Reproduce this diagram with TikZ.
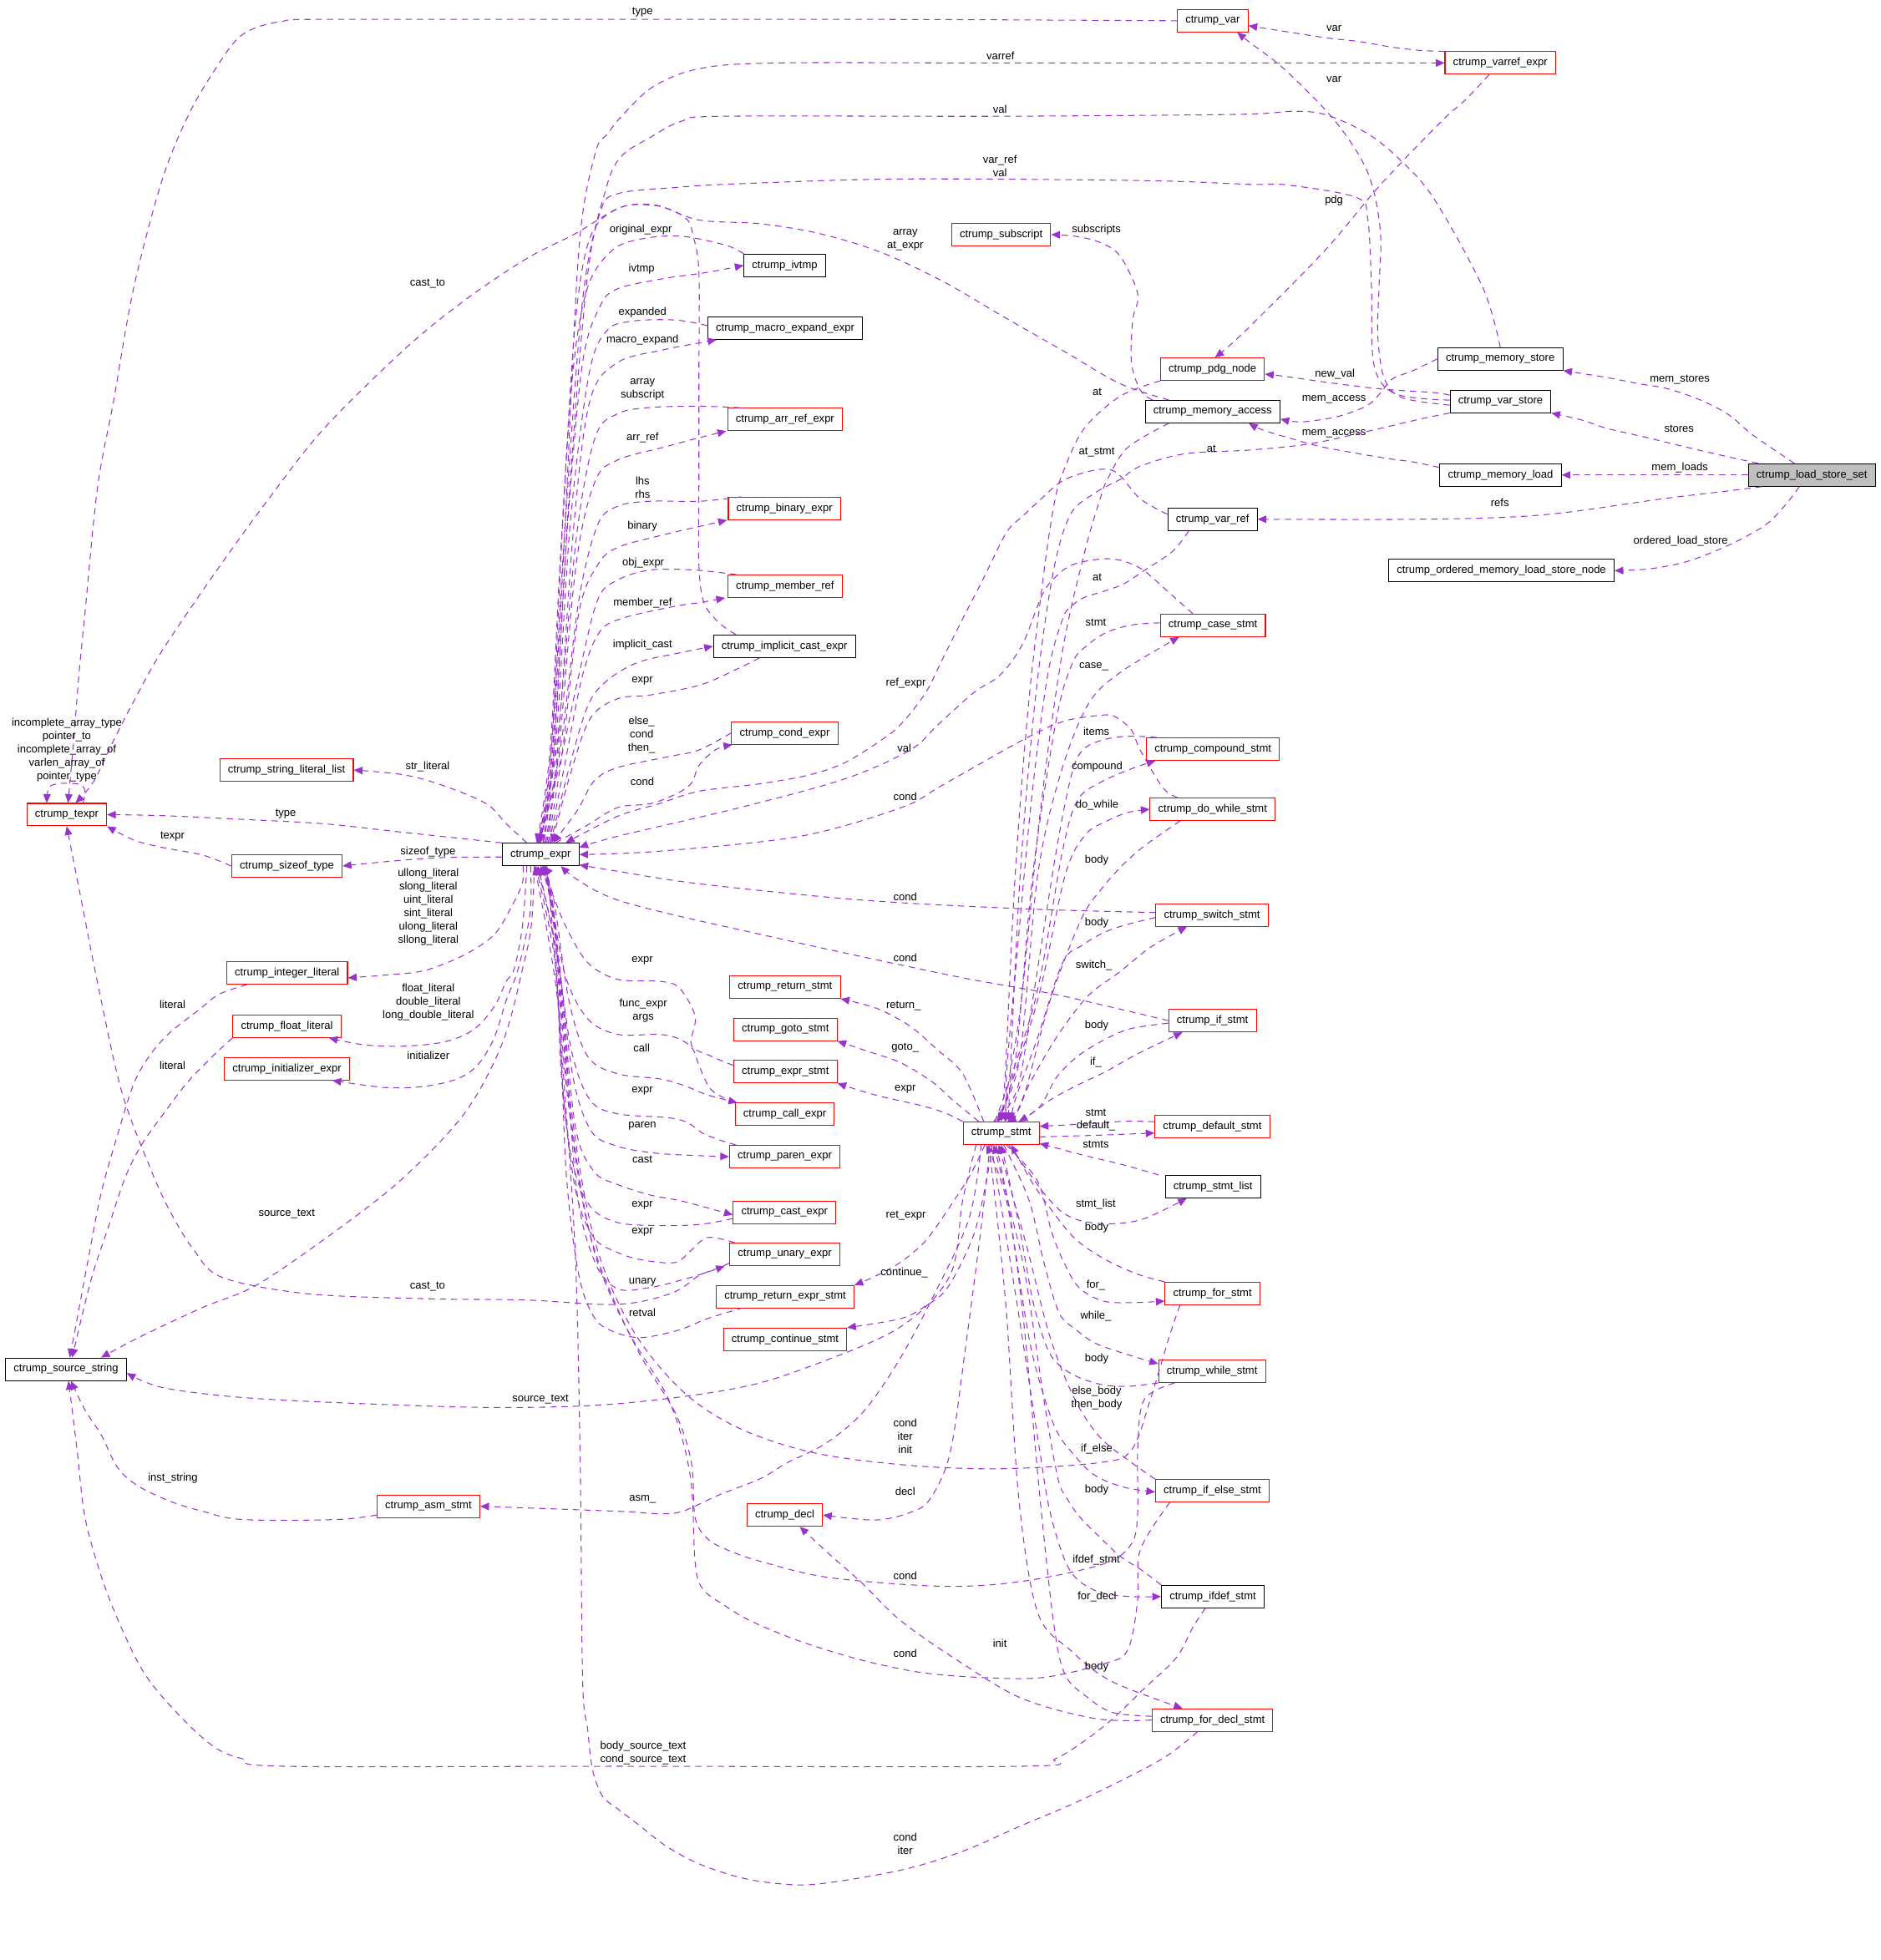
\documentclass[tikz,border=0pt]{standalone}
\usepackage{fontspec}
\setmainfont{Liberation Sans}
\usetikzlibrary{arrows.meta}
\definecolor{edgec}{HTML}{9A32CD}
\definecolor{boxred}{HTML}{FF0000}
\tikzset{
  cls/.style={draw=black, fill=white, line width=0.7pt, minimum height=18pt,
    inner xsep=6.5pt, inner ysep=0pt},
  rcls/.style={cls, draw=boxred},
  focus/.style={cls, fill=black!25},
  mem/.style={draw=edgec, line width=0.7pt, dash pattern=on 5pt off 4pt,
    -{Triangle[length=7pt,width=6pt]}},
  lbl/.style={inner sep=0pt, align=center},
  every plot/.style={smooth, tension=0.55}
}
\begin{document}
\begin{tikzpicture}[x=1pt, y=-1pt, font=\fontsize{8.7}{10.7}\selectfont]
\useasboundingbox (0,0) rectangle (1504,1568);
% classes
\node[focus] (lss) at (1449.2,380) {ctrump\_load\_store\_set};
\node[cls] (mstore) at (1200,287.1) {ctrump\_memory\_store};
\node[cls] (vstore) at (1200.2,321.1) {ctrump\_var\_store};
\node[cls] (mload) at (1200.2,380) {ctrump\_memory\_load};
\node[cls] (ordered) at (1200.9,456.5) {ctrump\_ordered\_memory\_load\_store\_node};
\node[cls] (macc) at (969.9,329.3) {ctrump\_memory\_access};
\node[cls] (varr) at (969.8,415.4) {ctrump\_var\_ref};
\node[rcls] (var) at (970,16.6) {ctrump\_var};
\node[rcls] (varref) at (1200,50.4) {ctrump\_varref\_expr};
\node[rcls] (subscr) at (800.8,187.7) {ctrump\_subscript};
\node[rcls] (pdg) at (969.8,295.3) {ctrump\_pdg\_node};
\node[cls] (ivtmp) at (627.7,212.3) {ctrump\_ivtmp};
\node[cls] (macro) at (628,262.5) {ctrump\_macro\_expand\_expr};
\node[rcls] (arrref) at (627.9,335.5) {ctrump\_arr\_ref\_expr};
\node[rcls] (binary) at (627.5,406.8) {ctrump\_binary\_expr};
\node[rcls] (member) at (627.9,469) {ctrump\_member\_ref};
\node[cls] (icast) at (627.4,517) {ctrump\_implicit\_cast\_expr};
\node[rcls] (condx) at (627.7,586.4) {ctrump\_cond\_expr};
\node[rcls] (strlit) at (229.2,616) {ctrump\_string\_literal\_list};
\node[rcls] (texpr) at (53.4,651.7) {ctrump\_texpr};
\node[cls] (expr) at (432.4,683.6) {ctrump\_expr};
\node[rcls] (sizeof) at (229.5,692.8) {ctrump\_sizeof\_type};
\node[rcls] (intlit) at (229.6,778.3) {ctrump\_integer\_literal};
\node[rcls] (fltlit) at (229.5,821) {ctrump\_float\_literal};
\node[rcls] (init) at (229.5,855) {ctrump\_initializer\_expr};
\node[cls] (srcstr) at (52.8,1095.4) {ctrump\_source\_string};
\node[rcls] (asm) at (342.7,1205) {ctrump\_asm\_stmt};
\node[rcls] (retst) at (627.9,789.7) {ctrump\_return\_stmt};
\node[rcls] (gotost) at (628.2,823.6) {ctrump\_goto\_stmt};
\node[rcls] (exprst) at (628.2,857.3) {ctrump\_expr\_stmt};
\node[rcls] (call) at (627.7,891.4) {ctrump\_call\_expr};
\node[rcls] (paren) at (627.7,925.3) {ctrump\_paren\_expr};
\node[rcls] (cast) at (627.5,969.9) {ctrump\_cast\_expr};
\node[rcls] (unary) at (627.7,1003.5) {ctrump\_unary\_expr};
\node[rcls] (retexpr) at (628,1037.5) {ctrump\_return\_expr\_stmt};
\node[rcls] (contst) at (628,1071.4) {ctrump\_continue\_stmt};
\node[rcls] (decl) at (627.7,1212) {ctrump\_decl};
\node[rcls] (stmt) at (800.8,906.5) {ctrump\_stmt};
\node[rcls] (casest) at (970.1,500.3) {ctrump\_case\_stmt};
\node[rcls] (compst) at (970.2,599.3) {ctrump\_compound\_stmt};
\node[rcls] (dowhile) at (969.9,647.4) {ctrump\_do\_while\_stmt};
\node[rcls] (switchst) at (969.4,732) {ctrump\_switch\_stmt};
\node[rcls] (ifst) at (969.8,816.5) {ctrump\_if\_stmt};
\node[rcls] (defst) at (969.7,901.4) {ctrump\_default\_stmt};
\node[cls] (stlist) at (970.2,949.3) {ctrump\_stmt\_list};
\node[rcls] (forst) at (969.8,1034.8) {ctrump\_for\_stmt};
\node[rcls] (whilest) at (969.5,1097) {ctrump\_while\_stmt};
\node[rcls] (ifelse) at (969.7,1192.6) {ctrump\_if\_else\_stmt};
\node[cls] (ifdef) at (970.1,1277.2) {ctrump\_ifdef\_stmt};
\node[rcls] (fordecl) at (969.8,1376) {ctrump\_for\_decl\_stmt};

% load/store set
\draw[mem] plot coordinates {([xshift=-14pt]lss.north) (1402,348) (1383,332) (1360,320) (1334,311) (1311,307) (1285,302) (mstore.south east)};
\draw[mem] plot coordinates {([xshift=-43pt]lss.north) (1383,365.6) (1350,358) (1317,350) (1285,342.6) (1265,336) (vstore.south east)};
\draw[mem] (lss) -- (mload);
\draw[mem] plot coordinates {([xshift=-40pt]lss.south) (1380,393) (1330,399) (1252,410) (1200,414) (1120,415.5) (varr.east)};
\draw[mem] plot coordinates {([xshift=-10pt]lss.south) (1428,404) (1412,420) (1383,436) (1350,449) (1320,455) (ordered.east)};
\node[lbl] (lmst) at (1343.6,303.8) {mem\_stores};
\node[lbl] (lst) at (1343,343.1) {stores};
\node[lbl] (lmld) at (1343.6,374.1) {mem\_loads};
\node[lbl] (lrefs) at (1199.7,402.1) {refs};
\node[lbl] (lols) at (1344.3,433.1) {ordered\_load\_store};

% var, varref, stores, memory access
\draw[mem] plot coordinates {(varref.north west) (1137,40.4) (1114,37.8) (1087,33.2) (1064,30.7) (1038,26.8) ([yshift=-4pt]var.east)};
\draw[mem] plot coordinates {([yshift=-3pt]vstore.west) (1121,318) (1107,302) (1102,268) (1103,230) (1104,184) (1094,138) (1068,97) (1028,56) (1001,35) ([xshift=-9pt]var.south east)};
\draw[mem] plot coordinates {([xshift=-9pt]varref.south) (1172,80) (1153,97) (1104,148) (1061,199) (1008,253) (984,276) ([xshift=2pt]pdg.north)};
\draw[mem] plot coordinates {(mstore.west) (1130,296.6) (1114,303) (1104,314.5) (1097,322) (1087,327.5) (1068,333.7) (1041,337.5) ([yshift=-6pt]macc.east)};
\draw[mem] plot coordinates {([yshift=6pt]mload.west) (1130,369.5) (1114,367.4) (1087,363) (1055,357) (1031,350.3) (1010,344) ([xshift=29pt]macc.south)};
\draw[mem] plot coordinates {([yshift=5pt]vstore.west) (1146,314) (1107,311.4) (1068,306.8) (1041,303) (1022,300.4) ([yshift=-4pt]pdg.east)};
\node[lbl] (lvar1) at (1067,22.5) {var};
\node[lbl] (lvar2) at (1067,63.4) {var};
\node[lbl] (lpdg) at (1067,160.6) {pdg};
\node[lbl] (lnew) at (1067.7,299.2) {new\_val};
\node[lbl] (lmacc1) at (1067,319.6) {mem\_access};
\node[lbl] (lmacc2) at (1067,347) {mem\_access};

% long edges into the top of ctrump_expr
\draw[mem] plot coordinates {([xshift=2pt]expr.north) (442,600) (452,420) (463,200) (476,123) (486,107) (499,91) (523,69) (559,55) (620,50.4) (800,50.4) (1000,50.4) (varref.west)};
\draw[mem] plot coordinates {(mstore.north) (1186,230) (1147,159) (1120,128) (1094,107) (1061,92) (1035,89) (989,91.5) (800,93) (579,93) (545,97) (520,110) (497,125) (485,150) (470,220) (455,400) (443,600) ([xshift=-1pt]expr.north)};
\draw[mem] plot coordinates {([yshift=1pt]vstore.west) (1116,315) (1099,292) (1097,230) (1094,175) (1085,158) (1030,148) (1000,147.5) (915,144.5) (721,143.2) (591,147) (540,150) (494,155) (480,170) (466,240) (452,420) (441,600) ([xshift=-2pt]expr.north)};
\draw[mem] plot coordinates {([xshift=-35pt]macc.north) (896,307) (851,281) (802,253) (754,225) (705,202) (656,187) (608,179) (559,176) (524,164) (494,167) (472,190) (460,260) (450,420) (441,600) (expr.north)};
\node[lbl] (lvarref) at (800.2,44.7) {varref};
\node[lbl] (lval1) at (799.8,87.4) {val};
\node[lbl] (lvrv) at (799.8,132.7) {var\_ref\\val};
\node[lbl] (larr) at (724.1,191.7) {array\\at\_expr};

% memory access, pdg, stores and var_ref into ctrump_stmt
\draw[mem] plot coordinates {(macc.169) (912,312) (905,290) (906,256) (910,235) (896,205) (880,194) (860,189) (subscr.east)};
\draw[mem] plot coordinates {([xshift=-35pt]macc.south) (902,358) (886,383) (880,399) (868,440) (850,520) (832,650) (817,800) (806,870) ([xshift=3pt]stmt.north)};
\draw[mem] plot coordinates {(pdg.south west) (896,317) (867,343) (851,376) (844,399) (836,450) (823,560) (812,700) (804,860) (stmt.north)};
\draw[mem] plot coordinates {(vstore.south west) (1137,335) (1094,345) (1048,355) (1000,360) (948,363) (912,373) (896,383.5) (876.5,394) (856,412) (842,460) (828,560) (816,700) (808,860) ([xshift=6pt]stmt.north)};
\draw[mem] plot coordinates {([xshift=-19pt]varr.south) (938,441) (915,456.5) (899,467) (883,473) (867,478) (857,485) (850,495) (838,540) (825,640) (812,780) (805,860) ([xshift=4pt]stmt.north)};
\node[lbl] (lsubs) at (876.9,184.1) {subscripts};
\node[lbl] (lat1) at (877.6,313.7) {at};
\node[lbl] (latst) at (877.2,361.8) {at\_stmt};
\node[lbl] (lat2) at (968.9,359.2) {at};
\node[lbl] (lat3) at (877.5,462.2) {at};

% var_ref, case
\draw[mem] plot coordinates {([yshift=4pt]varr.west) (912,399) (893,378) (876.5,376) (851,384) (834,398) (818,413) (805,426) (786,464) (770,495) (753.5,528) (740.5,554) (721,579) (705,592) (676,610) (647,620) (608,627) (559,633) (527,643) (494,653) (expr.25)};
\draw[mem] plot coordinates {([xshift=-16pt]casest.north) (935,474) (915,456.5) (899,449) (883,447) (860,451) (847,459) (834,475) (818,515) (800,540) (779,554) (750,580) (728,600) (676,623) (592,646) (494,669) (expr.10)};
\draw[mem] plot coordinates {([yshift=2pt]casest.west) (905,500) (885,506) (870,516) (858,530) (845,575) (826,700) (812,850) ([xshift=-3pt]stmt.north)};
\draw[mem] plot coordinates {([xshift=-6pt]stmt.north) (815,850) (830,700) (848,620) (870,564) (896,538) ([xshift=-27pt]casest.south)};
\node[lbl] (lrefx) at (724.6,546.5) {ref\_expr};
\node[lbl] (lval2) at (723.3,598.7) {val};
\node[lbl] (lstmt1) at (876.5,498.2) {stmt};
\node[lbl] (lcase) at (874.9,533.2) {case\_};

% compound, do_while, switch, if
\draw[mem] plot coordinates {([xshift=-45pt]compst.north) (902,589) (882,592) (866,600) (857,620) (845,680) (826,800) (814,870) ([xshift=-4pt]stmt.north)};
\draw[mem] plot coordinates {([xshift=-5pt]stmt.north) (828,800) (850,680) (862,640) (880,626) (905,615) ([xshift=-46pt]compst.south)};
\draw[mem] plot coordinates {([xshift=-2pt]stmt.north) (830,800) (852,700) (868,668) (885,657) (902,650) (dowhile.west)};
\draw[mem] plot coordinates {([xshift=-26pt]dowhile.south) (915,677) (898,692) (882,710) (865,735) (840,800) (818,880) ([xshift=5pt]stmt.north)};
\draw[mem] plot coordinates {([xshift=-28pt]dowhile.north) (930,630) (912,600) (905,584) (893,574) (883,572) (851,577) (818,592) (754,628) (721,646) (640,669) (527,681) (expr.east)};
\draw[mem] plot coordinates {([yshift=2pt]switchst.west) (818,727) (689,720) (559,707) (494,697) (expr.-15)};
\draw[mem] plot coordinates {([yshift=-2pt]switchst.west) (900,740) (883,746) (866,756) (850,770) (830,830) (812,880) ([xshift=8pt]stmt.north)};
\draw[mem] plot coordinates {([xshift=10pt]stmt.north) (822,870) (845,830) (870,797) (895,778) (920,758) ([xshift=-20pt]switchst.south)};
\draw[mem] plot coordinates {(ifst.west) (851,797) (796,787) (754,779) (624,751) (494,720) (expr.-30)};
\draw[mem] plot coordinates {([yshift=-2pt]ifst.west) (904,823) (883,832) (862,845) (845,862) (832,885) ([xshift=14pt]stmt.north)};
\draw[mem] plot coordinates {([xshift=16pt]stmt.north) (840,880) (862,868) (885,857) (910,843) ([xshift=-24pt]ifst.south)};
\node[lbl] (litems) at (876.9,585.1) {items};
\node[lbl] (lcomp) at (877.5,613.3) {compound};
\node[lbl] (ldow) at (877.5,643.9) {do\_while};
\node[lbl] (lbody1) at (877.2,687.9) {body};
\node[lbl] (lbody2) at (877.2,738.6) {body};
\node[lbl] (lswitch) at (874.9,772.3) {switch\_};
\node[lbl] (lbody3) at (877.2,820.3) {body};
\node[lbl] (lif) at (876.5,849.7) {if\_};
\node[lbl] (lcond1) at (724,637.3) {cond};
\node[lbl] (lcond2) at (724,717.3) {cond};
\node[lbl] (lcond3) at (724,766.4) {cond};

% default, stmt_list, for, while
\draw[mem] plot coordinates {([yshift=4pt]defst.west) (900,897) (870,899) (stmt.10)};
\draw[mem] plot coordinates {([yshift=-3pt]stmt.east) (850,909) (883,908) ([yshift=-5pt]defst.west)};
\draw[mem] plot coordinates {([xshift=-5pt]stlist.north west) (899,932) (866,924) (stmt.-15)};
\draw[mem] plot coordinates {([xshift=6pt]stmt.south) (825,941) (837,957) (850,970) (866,977) (889,979) (915,975) ([xshift=-21pt]stlist.south)};
\draw[mem] plot coordinates {(forst.north west) (909,1019) (883,1007) (860,991) (841,968) (825,945) ([xshift=8pt]stmt.south)};
\draw[mem] plot coordinates {([xshift=4pt]stmt.south) (830,945) (841,985) (851,1010) (863,1030) (883,1041) (909,1042) ([yshift=-6pt]forst.west)};
\draw[mem] plot coordinates {([xshift=2pt]stmt.south) (823,960) (835,1010) (847,1050) (861,1064) (877,1075) (903,1084) ([yshift=6pt]whilest.west)};
\draw[mem] plot coordinates {(whilest.south west) (903,1109) (883,1108) (863,1102) (847,1092) (837,1077) (826,1040) (815,980) (stmt.south)};
\node[lbl] (lstmt2) at (876.5,889.9) {stmt};
\node[lbl] (ldef) at (876.5,900.6) {default\_};
\node[lbl] (lstmts) at (876.5,915.2) {stmts};
\node[lbl] (lstl) at (876.5,963.2) {stmt\_list};
\node[lbl] (lbody4) at (877.2,981.9) {body};
\node[lbl] (lfor) at (876.5,1028.2) {for\_};
\node[lbl] (lwhile) at (876.5,1052.7) {while\_};
\node[lbl] (lbody5) at (877.2,1087) {body};

% if_else, ifdef, for_decl
\draw[mem] plot coordinates {(ifelse.north west) (905,1170) (880,1150) (860,1120) (840,1070) (822,1000) (808,950) ([xshift=-2pt]stmt.south)};
\draw[mem] plot coordinates {([xshift=-4pt]stmt.south) (806,960) (812,1000) (825,1080) (843,1140) (860,1165) (877,1181) (900,1190) ([yshift=-1pt]ifelse.west)};
\draw[mem] plot coordinates {(ifdef.north west) (913,1256) (896,1245) (880,1230) (864,1214) (853,1198) (846,1182) (835,1120) (820,1020) (806,960) ([xshift=-6pt]stmt.south)};
\draw[mem] plot coordinates {([xshift=-8pt]stmt.south) (800,960) (813,1040) (830,1150) (840,1210) (855,1255) (875,1272) (900,1277) (ifdef.west)};
\draw[mem] plot coordinates {([xshift=-10pt]stmt.south) (796,960) (805,1050) (815,1200) (830,1290) (856,1320) (889,1345) ([xshift=-24pt]fordecl.north)};
\draw[mem] plot coordinates {([yshift=3pt]fordecl.west) (890,1370) (870,1358) (852,1340) (843,1300) (832,1200) (818,1050) (805,960) ([xshift=-12pt]stmt.south)};
\draw[mem] plot coordinates {(fordecl.west) (877,1375) (818,1359) (770,1331) (721,1297) (689,1266) (663,1243) ([xshift=12pt]decl.south)};
\node[lbl] (lebtb) at (877.2,1118.5) {else\_body\\then\_body};
\node[lbl] (lifelse) at (877.2,1159) {if\_else};
\node[lbl] (lbody6) at (877.2,1191.8) {body};
\node[lbl] (lifdef) at (876.9,1248) {ifdef\_stmt};
\node[lbl] (lfordecl) at (877.5,1277.2) {for\_decl};
\node[lbl] (linit) at (799.8,1314.7) {init};
\node[lbl] (lbody7) at (877.2,1333.6) {body};

% ctrump_stmt to the middle column
\draw[mem] plot coordinates {([xshift=-14pt]stmt.north) (770,859) (750,840) (728,821) (702,807) (retst.south east)};
\draw[mem] plot coordinates {([xshift=-18pt]stmt.north) (762,880) (745,865) (720,850) (694,841) (gotost.south east)};
\draw[mem] plot coordinates {(stmt.north west) (755,890) (735,884) (700,876) (exprst.south east)};
\draw[mem] plot coordinates {([xshift=-13pt]stmt.south) (776,940) (758,968) (740,993) (720,1010) (700,1021) (retexpr.north east)};
\draw[mem] plot coordinates {([xshift=-7pt]stmt.south) (788,950) (778,990) (758,1030) (740,1045) (720,1055) (contst.north east)};
\draw[mem] plot coordinates {([xshift=-16pt]stmt.south) (775,975) (745,1040) (718,1090) (690,1130) (660,1155) (630,1170) (608,1183) (575,1196) (546,1209) (527,1211) (494,1209) (asm.east)};
\draw[mem] plot coordinates {([xshift=-9pt]stmt.south) (785,980) (772,1080) (760,1162) (744,1199) (728,1210) (700,1216) (decl.east)};
\draw[mem] plot coordinates {([xshift=-20pt]stmt.south) (770,960) (760,1020) (721,1061) (656,1090) (592,1110) (494,1123) (400,1126) (292,1123) (194,1118) (130,1110) ([yshift=-3pt]srcstr.east)};
\node[lbl] (lret) at (722.7,804.5) {return\_};
\node[lbl] (lgoto) at (724,838.5) {goto\_};
\node[lbl] (lexpr1) at (724,871.4) {expr};
\node[lbl] (lretx) at (724.6,972.7) {ret\_expr};
\node[lbl] (lcont) at (723.3,1018.2) {continue\_};
\node[lbl] (lasm) at (513.9,1199.3) {asm\_};
\node[lbl] (ldecl) at (724,1193.1) {decl};
\node[lbl] (lsrc2) at (432.3,1119.2) {source\_text};

% loops back into the bottom of ctrump_expr
\draw[mem] plot coordinates {([xshift=-12pt]fordecl.south) (928,1408) (867,1439) (818,1460) (770,1481) (721,1496) (656,1507) (624,1507) (592,1502) (559,1491) (533,1477) (511,1460) (494,1447) (482,1437) (474,1416) (470,1383) (466,1344) (464,1163) (460,1000) (450,850) (440,720) ([xshift=3pt]expr.south)};
\draw[mem] plot coordinates {([xshift=-30pt]whilest.south) (915,1120) (910,1160) (910,1210) (905,1235) (883,1251) (818,1265) (754,1269) (663,1262) (608,1249) (582,1240) (566,1231) (556,1214) (553,1170) (540,1130) (510,1080) (475,1000) (455,880) (443,730) ([xshift=2pt]expr.south)};
\draw[mem] plot coordinates {([xshift=-34pt]ifelse.south) (912,1240) (910,1280) (902,1320) (883,1331) (834,1342) (786,1342) (737,1338) (689,1328) (640,1313) (601,1297) (579,1284) (562,1271) (556,1250) (552,1180) (535,1120) (500,1060) (470,980) (452,860) (443,730) ([xshift=1pt]expr.south)};
\draw[mem] plot coordinates {([xshift=-26pt]forst.south) (935,1070) (920,1120) (905,1160) (880,1170) (800,1175) (724,1172) (650,1162) (590,1142) (545,1112) (505,1062) (475,990) (456,880) (444,740) (expr.south)};
\draw[mem] plot coordinates {([xshift=-6pt]ifdef.south) (954,1302) (941,1326) (915,1351) (890,1375) (867,1393) (844,1407) (818,1413) (494,1413) (227,1413) (194,1407) (172,1398) (146,1375) (117,1341) (97,1302) (81,1261) (68,1214) (62,1163) (58,1130) ([xshift=2pt]srcstr.south)};
\node[lbl] (lcii) at (724,1149.1) {cond\\iter\\init};
\node[lbl] (lcond4) at (724,1260.6) {cond};
\node[lbl] (lcond5) at (724,1322.7) {cond};
\node[lbl] (lci) at (724,1475.2) {cond\\iter};
\node[lbl] (lbsct) at (514.4,1402.5) {body\_source\_text\\cond\_source\_text};

% upper column of ctrump_expr
\draw[mem] plot coordinates {(ivtmp.north west) (580,196) (545,189) (514,191) (490,200) (470,230) (458,300) (448,450) (440,600) ([xshift=-3pt]expr.north)};
\draw[mem] plot coordinates {([xshift=3pt]expr.north) (443,600) (454,420) (466,290) (480,245) (494,231) (530,223) (565,218) (ivtmp.west)};
\draw[mem] plot coordinates {([yshift=2pt]macro.west) (540,256) (505,257) (485,265) (471,300) (456,420) (444,600) ([xshift=-3pt]expr.north)};
\draw[mem] plot coordinates {([xshift=4pt]expr.north) (446,600) (459,420) (472,320) (494,290) (530,280) (550,276) ([xshift=-55pt]macro.south)};
\draw[mem] plot coordinates {([xshift=-36pt]arrref.north) (560,325) (520,326) (494,331) (476,350) (461,430) (445,600) ([xshift=-2pt]expr.north)};
\draw[mem] plot coordinates {([xshift=5pt]expr.north) (447,600) (461,450) (476,385) (494,368) (530,358) (560,350) ([xshift=-47pt]arrref.south)};
\draw[mem] plot coordinates {([xshift=-35pt]binary.north) (560,401) (520,401) (494,405) (478,420) (463,480) (448,600) ([xshift=-1pt]expr.north)};
\draw[mem] plot coordinates {([xshift=6pt]expr.north) (450,600) (463,490) (478,452) (494,438) (530,428) (560,421) ([xshift=-46pt]binary.south)};
\draw[mem] plot coordinates {([xshift=-39pt]member.north) (555,456) (520,456) (494,464) (478,480) (463,540) (448,610) ([xshift=-1pt]expr.north)};
\draw[mem] plot coordinates {([xshift=7pt]expr.north) (452,610) (466,540) (480,505) (500,494) (540,485) (560,482) ([xshift=-48pt]member.south)};
\draw[mem] plot coordinates {([xshift=8pt]expr.north) (455,615) (470,565) (485,545) (510,530) (545,522) (icast.west)};
\draw[mem] plot coordinates {([xshift=-20pt]icast.south) (590,535) (560,548) (520,556) (494,559) (472,575) (456,620) ([xshift=9pt]expr.north)};
\draw[mem] plot coordinates {(condx.west) (559,600) (536.5,605) (494,614) (475,625) (462,648) ([xshift=10pt]expr.north)};
\draw[mem] plot coordinates {([xshift=12pt]expr.north) (470,660) (494,646) (520,643) (540,635.5) (553,626.6) (559,612.5) (572,600) ([xshift=-42pt]condx.south)};
\node[lbl] (lorig) at (512.5,184.1) {original\_expr};
\node[lbl] (livtmp) at (513.2,215.5) {ivtmp};
\node[lbl] (lexp) at (513.9,250) {expanded};
\node[lbl] (lmacro) at (513.9,272.3) {macro\_expand};
\node[lbl] (las) at (513.9,311.3) {array\\subscript};
\node[lbl] (larrref) at (514,349.8) {arr\_ref};
\node[lbl] (llr) at (514,390) {lhs\\rhs};
\node[lbl] (lbin) at (513.8,420.7) {binary};
\node[lbl] (lobj) at (514.5,450.1) {obj\_expr};
\node[lbl] (lmref) at (514,482.1) {member\_ref};
\node[lbl] (licast) at (514,515.9) {implicit\_cast};
\node[lbl] (lexpr2) at (513.8,544.5) {expr};
\node[lbl] (lect) at (513.2,587.7) {else\_\\cond\\then\_};
\node[lbl] (lcond6) at (513.8,625.3) {cond};

% lower column of ctrump_expr
\draw[mem] plot coordinates {([yshift=5pt]exprst.west) (569,845) (553,836) (556,813) (543,790) (527,785) (494,783.5) (470,770) (452,740) (440,710) (expr.south)};
\draw[mem] plot coordinates {(call.north west) (569,872) (559,852) (554,839) (543,831) (527,827.5) (494,827.5) (470,815) (452,780) (441,720) ([xshift=1pt]expr.south)};
\draw[mem] plot coordinates {([xshift=2pt]expr.south) (443,720) (455,800) (470,845) (494,859) (527,863) (546,868) (566,876) ([xshift=2pt]call.north west)};
\draw[mem] plot coordinates {([xshift=-39pt]paren.north) (578.6,913) (562.4,906.7) (549.4,897.8) (533,894) (494,891) (472,880) (457,840) (445,760) ([xshift=-2pt]expr.south)};
\draw[mem] plot coordinates {([xshift=3pt]expr.south) (446,760) (458,860) (473,905) (494,917) (520,922) (546,924) (paren.west)};
\draw[mem] plot coordinates {([xshift=4pt]expr.south) (448,780) (460,900) (475,937) (494,947.6) (520,956) (546,961) ([yshift=-2pt]cast.west)};
\draw[mem] plot coordinates {([yshift=-5pt]cast.west) (559,979.6) (527,980.4) (494,978) (472,965) (458,930) (449,860) (444,760) ([xshift=-3pt]expr.south)};
\draw[mem] plot coordinates {([xshift=-40pt]unary.north) (566,990) (552,1001) (540,1010) (514,1008) (494,1002) (475,990) (461,955) (451,880) (444,770) ([xshift=-4pt]expr.south)};
\draw[mem] plot coordinates {([xshift=5pt]expr.south) (450,800) (461,950) (476,1010) (494,1031) (520,1030) (545,1024) (565,1018) ([xshift=-48pt]unary.south)};
\draw[mem] plot coordinates {([xshift=-36pt]retexpr.south) (591.5,1047) (565.6,1055) (543,1064) (514,1070) (494,1066.5) (476,1055) (463,1020) (453,940) (446,800) ([xshift=-5pt]expr.south)};
\node[lbl] (lexpr3) at (513.8,768.5) {expr};
\node[lbl] (lfa) at (514.5,808.6) {func\_expr\\args};
\node[lbl] (lcall) at (513.2,838.5) {call};
\node[lbl] (lexpr4) at (513.8,872.7) {expr};
\node[lbl] (lparen) at (513.8,900.6) {paren};
\node[lbl] (lcast) at (513.8,927.4) {cast};
\node[lbl] (lexpr5) at (513.8,964.3) {expr};
\node[lbl] (lexpr6) at (513.8,985.5) {expr};
\node[lbl] (lunary) at (513.8,1025.6) {unary};
\node[lbl] (lretval) at (513.8,1050.4) {retval};

% ctrump_expr to the left column
\draw[mem] plot coordinates {([xshift=-11pt]expr.north) (405,659) (389,643) (356,629) (324,620) (strlit.east)};
\draw[mem] plot coordinates {(expr.north west) (324,666) (259,659) (194,655.5) (130,652.5) (texpr.east)};
\draw[mem] plot coordinates {([yshift=-2pt]expr.west) (356,686) (324,688) (291,691) (sizeof.east)};
\draw[mem] plot coordinates {(sizeof.west) (162,684) (130,678) (107,672) (texpr.south east)};
\draw[mem] plot coordinates {([xshift=-14pt]expr.south) (417.7,707) (408,727.5) (395,748) (372.4,763.4) (340,776.3) (307.6,780.1) ([yshift=-4pt]intlit.east)};
\draw[mem] plot coordinates {([xshift=-11pt]expr.south) (418,740) (411.3,775) (404.8,785.3) (395.1,805.7) (378.9,823.6) (356.2,833.3) (323.8,836.9) (291.5,835.9) ([xshift=-10pt]fltlit.south east)};
\draw[mem] plot coordinates {([xshift=-8pt]expr.south) (424,730) (414.5,775) (405,800) (395,831) (382,852) (366,863) (340,869) (308,870) ([xshift=-14pt]init.south east)};
\draw[mem] plot coordinates {([xshift=-5pt]expr.south) (425,740) (418,775) (402,834) (372,890) (324,941) (275,980) (207,1027) (162,1046) (113,1069) ([xshift=28pt]srcstr.north)};
\draw[mem] plot coordinates {([xshift=-32pt]intlit.south) (175,795.5) (159,808) (136,826) (120,844) (107,867) (94,908) (81,954) (71,1005) (61.5,1056) ([xshift=3pt]srcstr.north)};
\draw[mem] plot coordinates {(fltlit.south west) (168.4,846.6) (149,867) (129.5,892.7) (113.3,915.7) (100.4,941.3) (87.4,979.6) (74.5,1018) (64.8,1056) ([xshift=5pt]srcstr.north)};
\draw[mem] plot coordinates {([yshift=-7pt]asm.west) (269,1215.6) (194,1215.6) (162,1209) (136,1201) (110,1188.5) (94,1174) (81,1148) (68,1128) ([xshift=4pt]srcstr.south)};
\node[lbl] (lstrl) at (342,613.3) {str\_literal};
\node[lbl] (ltype2) at (228.6,650.9) {type};
\node[lbl] (ltexpr) at (138,669.3) {texpr};
\node[lbl] (lsot) at (342.3,681.5) {sizeof\_type};
\node[lbl] (lints) at (342.6,725.5) {ullong\_literal\\slong\_literal\\uint\_literal\\sint\_literal\\ulong\_literal\\sllong\_literal};
\node[lbl] (lflts) at (342.6,801.6) {float\_literal\\double\_literal\\long\_double\_literal};
\node[lbl] (linitz) at (342.6,844.3) {initializer};
\node[lbl] (llit1) at (138,803.9) {literal};
\node[lbl] (llit2) at (138,852.3) {literal};
\node[lbl] (lsrc1) at (229.3,971.4) {source\_text};
\node[lbl] (linst) at (138.3,1182.8) {inst\_string};

% ctrump_texpr: type, cast_to and its own loop
\draw[mem] plot coordinates {(var.west) (700,15.5) (400,15.5) (250,15.5) (226,17) (205,22) (190,31) (175,51) (152,89.5) (130,143) (107,230) (91,320) (78,390) (68,490) (63,541) (59,592) ([xshift=1pt]texpr.north)};
\draw[mem] plot coordinates {([xshift=-39pt]icast.north) (575,498) (563,482) (559,451) (559,387) (559,300) (559,217) (554,187) (550,176) (537,168) (520,164) (496,166) (460,187) (421,207) (372,240) (324,279) (259,343) (215,399) (175,454) (130,520) (107,561) (91,592) (75,625) ([xshift=7pt]texpr.north)};
\draw[mem] plot coordinates {([yshift=-7pt]unary.west) (572,1015.4) (559,1020.5) (537,1034.6) (494,1043.5) (420,1040) (342,1039) (246,1035) (178,1022) (155,1000) (136,969) (120,934) (97,872) (78,786) (65,720) (texpr.south)};
\draw[mem] plot coordinates {([xshift=13pt]texpr.north) (68,633) (64.8,627.8) (55,626.6) (45.3,627.1) (38.9,630.4) ([xshift=-16pt]texpr.north)};
\node[lbl] (ltype1) at (513.9,9.5) {type};
\node[lbl] (lcto1) at (342,227) {cast\_to};
\node[lbl] (lcto2) at (342,1028.9) {cast\_to};
\node[lbl] (lself) at (53.4,599.9) {incomplete\_array\_type\\pointer\_to\\incomplete\_array\_of\\varlen\_array\_of\\pointer\_type};
\end{tikzpicture}
\end{document}
